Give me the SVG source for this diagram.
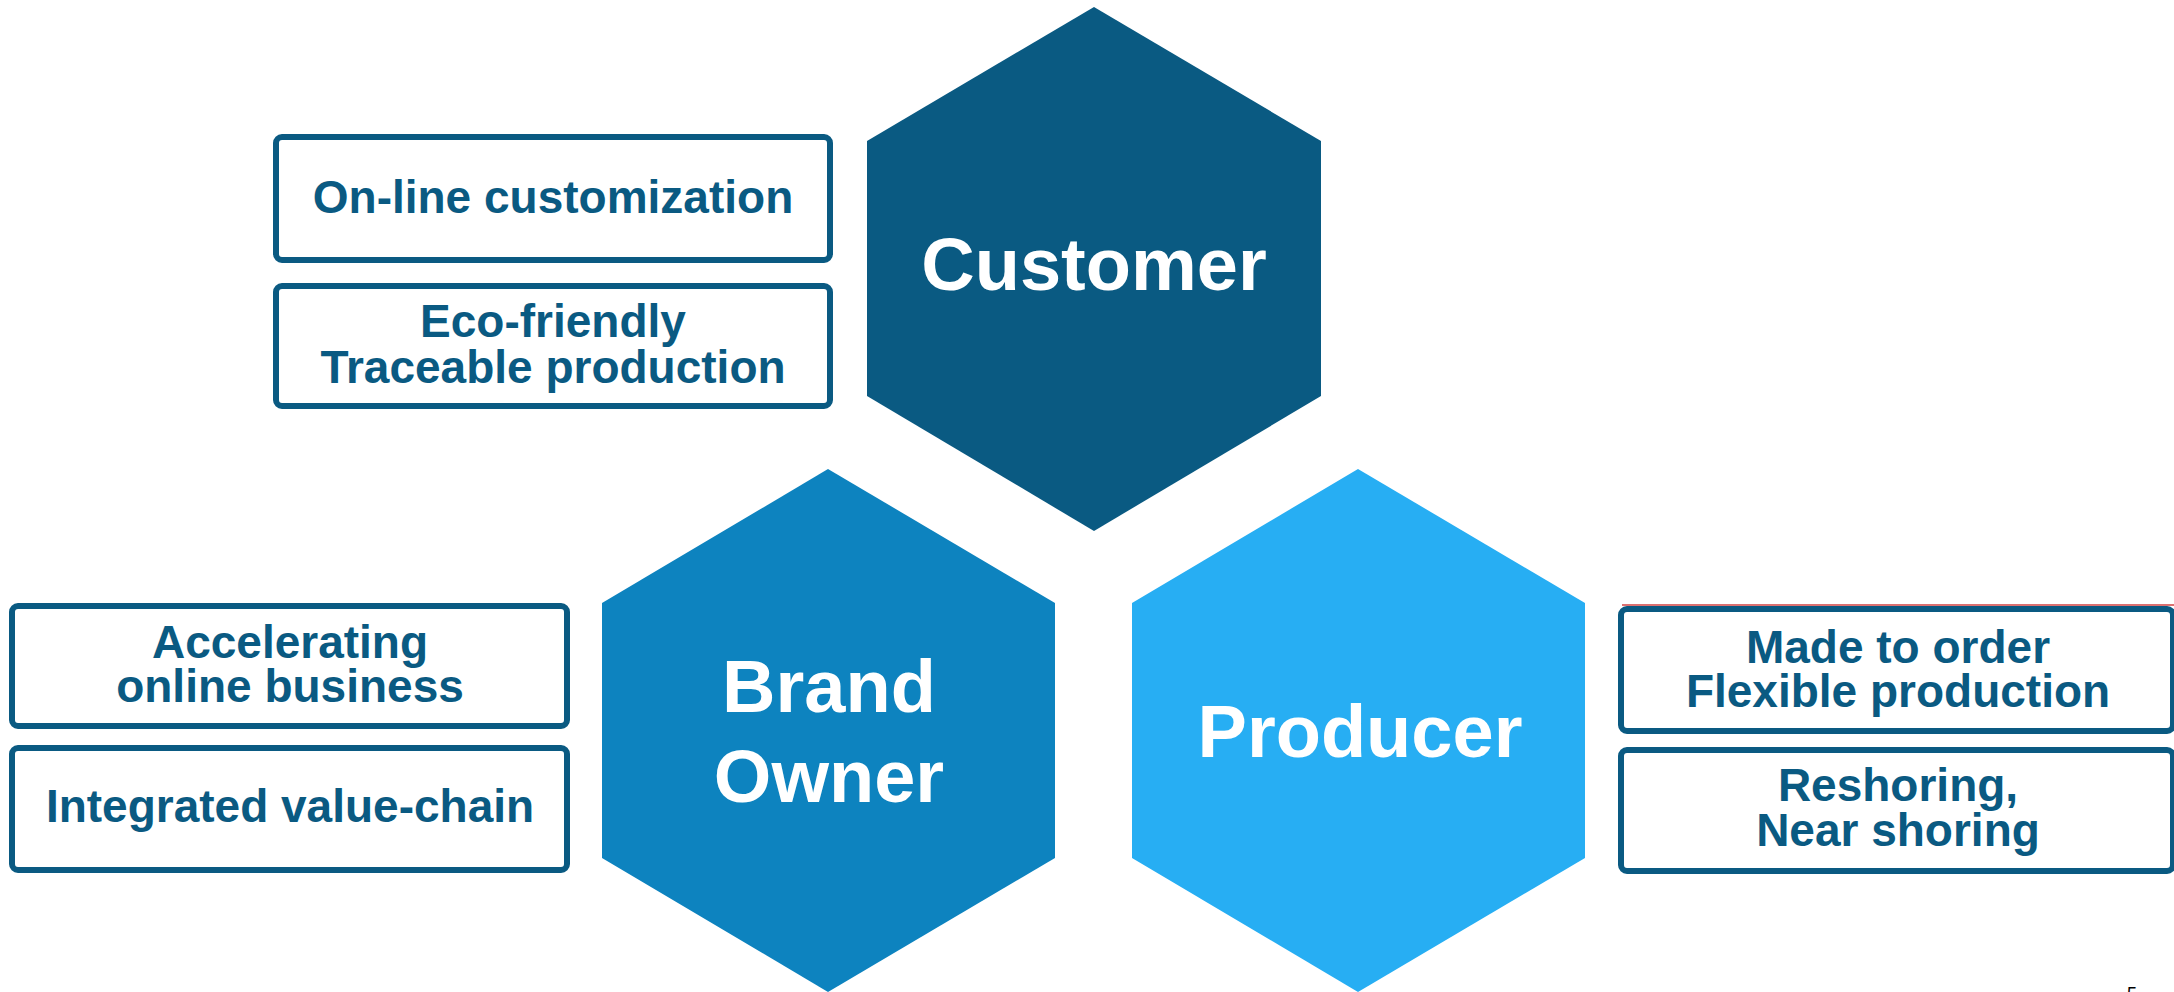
<svg xmlns="http://www.w3.org/2000/svg" width="2174" height="992" viewBox="0 0 2174 992">
<style>
.box{fill:#fff;stroke:#0A5A82;stroke-width:6}
.bt{font-family:"Liberation Sans",Arial,sans-serif;font-weight:bold;font-size:46px;fill:#0A5A82;text-anchor:middle}
.ht{font-family:"Liberation Sans",Arial,sans-serif;font-weight:bold;font-size:74px;fill:#fff;text-anchor:middle}
</style>
<rect width="2174" height="992" fill="#fff"/>
<g id="customer">
<polygon points="1094,7 1321,141 1321,396 1094,531 867,396 867,141" fill="#0A5A82"/>
<text class="ht" x="1094" y="290">Customer</text>
</g>
<g id="brand-owner">
<polygon points="828,469 1055,603 1055,858 828,992 602,858 602,603" fill="#0D83BF"/>
<text class="ht" x="829" y="712">Brand</text>
<text class="ht" x="829" y="802">Owner</text>
</g>
<g id="producer">
<polygon points="1358,469 1585,603 1585,858 1358,992 1132,858 1132,603" fill="#27AEF3"/>
<text class="ht" x="1360" y="757">Producer</text>
</g>
<g id="box-online-customization">
<rect class="box" x="276" y="137" width="554" height="123" rx="6"/>
<text class="bt" x="553" y="213">On-line customization</text>
</g>
<g id="box-eco-friendly">
<rect class="box" x="276" y="286" width="554" height="120" rx="6"/>
<text class="bt" x="553" y="337">Eco-friendly</text>
<text class="bt" x="553" y="383">Traceable production</text>
</g>
<g id="box-accelerating">
<rect class="box" x="12" y="606" width="555" height="120" rx="6"/>
<text class="bt" x="290" y="658">Accelerating</text>
<text class="bt" x="290" y="702">online business</text>
</g>
<g id="box-integrated">
<rect class="box" x="12" y="748" width="555" height="122" rx="6"/>
<text class="bt" x="290" y="822">Integrated value-chain</text>
</g>
<g id="box-made-to-order">
<line x1="1622" y1="605" x2="2174" y2="605" stroke="#D04040" stroke-width="1.5"/>
<rect class="box" x="1621" y="609" width="552" height="122" rx="6"/>
<text class="bt" x="1898" y="663">Made to order</text>
<text class="bt" x="1898" y="707">Flexible production</text>
</g>
<g id="box-reshoring">
<rect class="box" x="1621" y="750" width="552" height="121" rx="6"/>
<text class="bt" x="1898" y="801">Reshoring,</text>
<text class="bt" x="1898" y="846">Near shoring</text>
</g>
<g id="connectors"></g>
<text x="2127" y="1000" font-family="Liberation Sans, Arial, sans-serif" font-size="18" fill="#000">5</text>
</svg>
